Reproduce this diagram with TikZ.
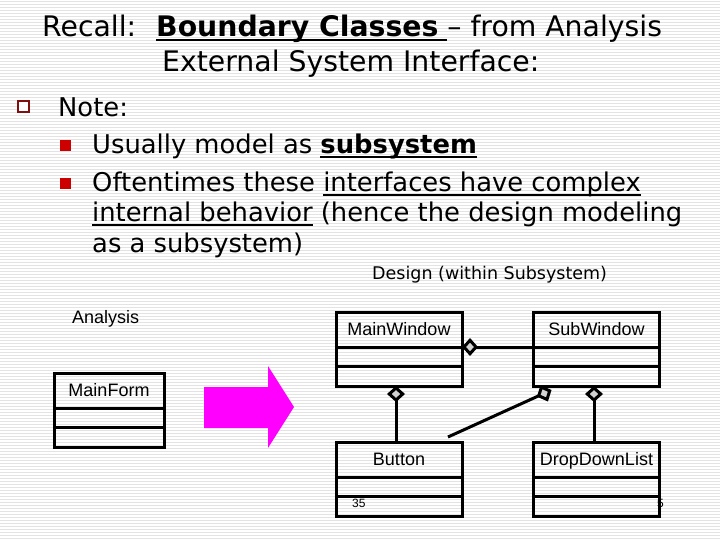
\documentclass[tikz,border=0pt]{standalone}
\usepackage{fontspec}
\setmainfont{DejaVu Sans}
\newfontfamily\umlfont{Liberation Sans}
\usepackage{xcolor}
\usetikzlibrary{arrows.meta}
\definecolor{marcador}{RGB}{204,0,0}
\definecolor{marcadorborda}{RGB}{128,16,16}
\definecolor{seta}{RGB}{255,0,255}
\newcommand{\tam}[1]{\fontsize{#1}{#1}\selectfont}
\newsavebox{\caixasub}
\newcommand{\sublinha}[1]{\sbox{\caixasub}{#1}\rlap{\rule[-4pt]{\wd\caixasub}{1.8pt}}\usebox{\caixasub}}
\tikzset{
  classe/.style={draw, line width=3pt, outer sep=0pt, minimum width=#1, inner ysep=0pt,
    text height=23pt, text depth=51pt, font=\umlfont\tam{18},
    path picture={
      \draw[line width=3pt] ([yshift=-35pt]path picture bounding box.north west) -- ([yshift=-35pt]path picture bounding box.north east);
      \draw[line width=3pt] ([yshift=-54pt]path picture bounding box.north west) -- ([yshift=-54pt]path picture bounding box.north east);
    }},
  classe/.default=126pt,
  agregacao/.style={line width=3pt, {Diamond[length=16pt, width=18pt, fill=gray!35]}-},
  texto/.style={anchor=base west, inner sep=0pt, font=\tam{#1}},
  texto/.default=25.8,
}

\begin{document}
\begin{tikzpicture}[x=1pt, y=-1pt,
    listra/.style={gray!22, line width=1pt},
    marcador/.style={fill=marcador, minimum size=11pt, inner sep=0pt},
  ]
  \useasboundingbox (0,0) rectangle (720,540);
  \fill[white] (0,0) rectangle (720,540);
  \foreach \y in {1.5,4.5,...,540} \draw[listra] (0,\y) -- (720,\y);

  \node[texto=28.3] (recall) at (42,37) {Recall:};
  \node[texto=28.3] (titulo) at (156,37) {\sublinha{\textbf{Boundary Classes}\ }– from Analysis};
  \node[texto=28.3] (titulo2) at (162,72) {External System Interface:};

  \node[draw=marcadorborda, line width=2pt, fill=white, minimum size=11pt, inner sep=0pt] (b0) at (23.5,107) {};
  \node[texto] (nota) at (58,117) {Note:};
  \node[marcador] (b1) at (65,146) {};
  \node[texto] (item1) at (92,154) {Usually model as \sublinha{\textbf{subsystem}}};
  \node[marcador] (b2) at (65,184) {};
  \node[texto] (item2a) at (92,192) {Oftentimes these \sublinha{interfaces have complex}};
  \node[texto] (item2b) at (92,222) {\sublinha{internal behavior} (hence the design modeling};
  \node[texto] (item2c) at (92,252) {as a subsystem)};

  \node[texto=17.5] (design) at (372,279) {Design (within Subsystem)};
  \node[texto=18, font=\umlfont\tam{18}] (analise) at (72,323) {Analysis};

  \node[classe=110pt] (mainform) at (109,410) {MainForm};
  \fill[seta] (204,387) -- (268,387) -- (268,366) -- (294,407) -- (268,448) -- (268,428) -- (204,428) -- cycle;
  \node[classe] (mainwin) at (399,349) {MainWindow};
  \node[classe] (subwin) at (596.5,349) {SubWindow};
  \node[classe] (button) at (399,479) {Button};
  \node[classe] (ddlist) at (596.5,479) {DropDownList};

  \coordinate (agg) at ([xshift=18pt,yshift=-4pt]subwin.south west);
  \coordinate (btnend) at ([xshift=-14pt,yshift=5pt]button.north east);
  \draw[agregacao] ([yshift=2pt]mainwin.east) -- ([yshift=2pt]subwin.west);
  \draw[agregacao] ([xshift=-3pt]mainwin.south) -- ([xshift=-3pt]button.north);
  \draw[agregacao] ([xshift=-2.5pt]subwin.south) -- ([xshift=-2.5pt]ddlist.north);
  \draw[agregacao] (agg) -- (btnend);

  \node[texto=12, font=\umlfont\tam{12}] (pag) at (352,507) {35};
  \node[texto=12, font=\umlfont\tam{12}] (pag2) at (657,507) {5};
\end{tikzpicture}
\end{document}
